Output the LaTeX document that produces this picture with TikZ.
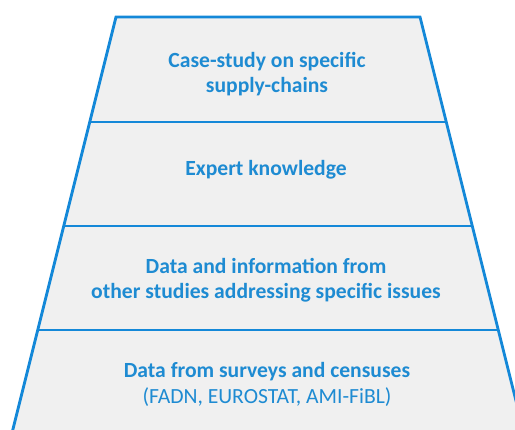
\documentclass[tikz,border=0pt]{standalone}
\usepackage{fontspec}
\setmainfont{Carlito}
\definecolor{edgeblue}{HTML}{1488D8}
\definecolor{textblue}{HTML}{1E8BD2}
\definecolor{bandfill}{HTML}{F0F0F0}
\begin{document}
\begin{tikzpicture}[x=1bp,y=-1bp,
  label/.style={text=textblue, font=\fontsize{21.7}{25.5}\selectfont\bfseries, align=center, inner sep=0pt},
  sublabel/.style={text=textblue, font=\fontsize{21.7}{25.5}\selectfont, align=center, inner sep=0pt},
  edge/.style={edgeblue, line width=2.8bp}]
\useasboundingbox (0,0) rectangle (515,429);
\clip (0,0) rectangle (515,429);
% outline of the pyramid; sides slope 0.25 px per px of height
\coordinate (tl) at (116,17);
\coordinate (tr) at (420,17);
\coordinate (bl) at (10,441);
\coordinate (br) at (526,441);
\fill[bandfill] (tl) -- (tr) -- (br) -- (bl) -- cycle;
\draw[edge, line join=miter] (bl) -- (tl) -- (tr) -- (br);
% dividers between the levels
\draw[edge] (89.75,122) -- (446.25,122);
\draw[edge] (63.75,226) -- (472.25,226);
\draw[edge] (37.75,330) -- (498.25,330);
% level texts
\node[label] (case) at (267,74) {Case-study on specific\\supply-chains};
\node[label, anchor=base] (expert) at (266,175) {Expert knowledge};
\node[label] (studies) at (266,280) {Data and information from\\other studies addressing specific issues};
\node[label, anchor=base] (surveys) at (267,377) {Data from surveys and censuses};
\node[sublabel, anchor=base] (sources) at (267,403) {(FADN, EUROSTAT, AMI-FiBL)};
\end{tikzpicture}
\end{document}
